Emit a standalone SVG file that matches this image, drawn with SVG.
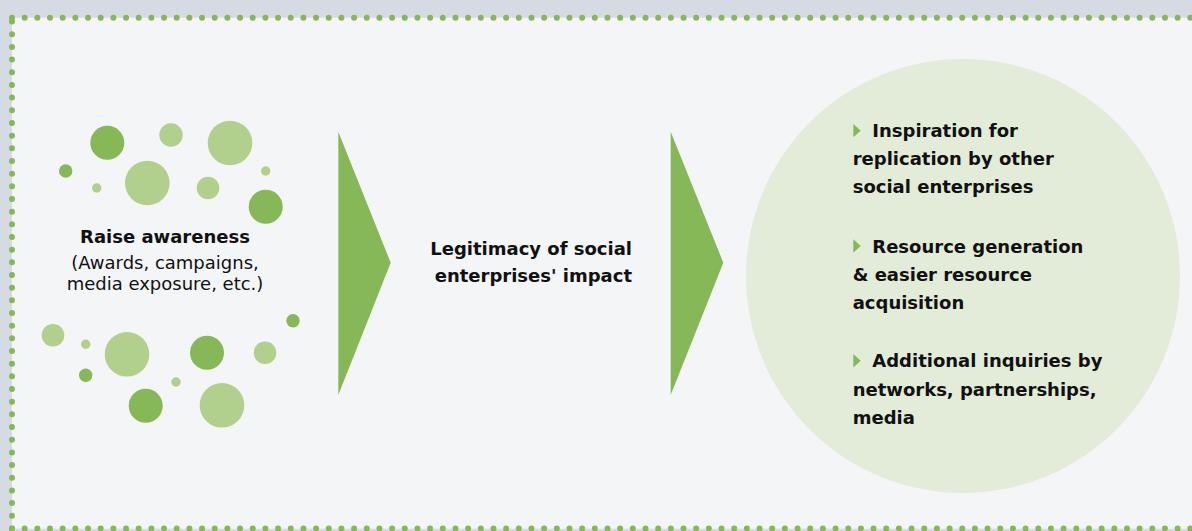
<svg xmlns="http://www.w3.org/2000/svg" width="1192" height="531" viewBox="0 0 1192 531">
<style>
.dots{fill:none;stroke:#86b858;stroke-width:6;stroke-linecap:round;stroke-dasharray:0 12.67}
.dk{fill:#86b858}
.lt{fill:#b1cf8d}
.chev{fill:#86b858}
.b{font-family:"DejaVu Sans",sans-serif;font-weight:bold;font-size:18px;fill:#111}
.r{font-family:"DejaVu Sans",sans-serif;font-size:18px;fill:#111}
.bul{fill:#86b858}
</style>
<rect x="0" y="0" width="1192" height="531" fill="#d5dae3"/>
<rect x="12" y="17.7" width="1180" height="511" fill="#f4f5f7"/>
<g id="border">
<path class="dots" d="M12 17.7 H1192"/>
<path class="dots" d="M12 528.4 H1192"/>
<path class="dots" d="M12 528.4 V17.7"/>
</g>
<g id="awareness">
<circle class="dk" cx="107.3" cy="142.7" r="17"/>
<circle class="lt" cx="171" cy="135" r="11.7"/>
<circle class="lt" cx="230" cy="143" r="22.3"/>
<circle class="dk" cx="65.7" cy="171" r="6.7"/>
<circle class="lt" cx="96.7" cy="188" r="4.7"/>
<circle class="lt" cx="147.3" cy="183" r="22.3"/>
<circle class="lt" cx="208" cy="188" r="11.3"/>
<circle class="lt" cx="265.7" cy="171" r="4.7"/>
<circle class="dk" cx="265.7" cy="206.7" r="17"/>
<circle class="lt" cx="53" cy="335.3" r="11.3"/>
<circle class="lt" cx="85.7" cy="344.3" r="4.7"/>
<circle class="lt" cx="127" cy="354.3" r="22.3"/>
<circle class="dk" cx="207" cy="352.7" r="17"/>
<circle class="lt" cx="265" cy="352.7" r="11.3"/>
<circle class="dk" cx="293" cy="320.7" r="6.7"/>
<circle class="dk" cx="85.7" cy="375.3" r="6.7"/>
<circle class="lt" cx="176" cy="382" r="4.7"/>
<circle class="dk" cx="145.7" cy="405.7" r="17"/>
<circle class="lt" cx="222" cy="405.3" r="22.3"/>
<text class="b" x="165" y="243" text-anchor="middle">Raise awareness</text>
<text class="r" x="165" y="269" text-anchor="middle">(Awards, campaigns,</text>
<text class="r" x="165" y="290" text-anchor="middle">media exposure, etc.)</text>
</g>
<g id="connectors">
<polygon class="chev" points="338.3,131.7 390.7,262.7 338.3,395"/>
<polygon class="chev" points="670.7,131.7 723.3,262.7 670.7,395"/>
</g>
<g id="legitimacy">
<text class="b" x="632" y="255" text-anchor="end">Legitimacy of social</text>
<text class="b" x="632" y="281.5" text-anchor="end">enterprises' impact</text>
</g>
<g id="outcomes">
<circle cx="963" cy="276" r="217" fill="#e3ecd8"/>
<polygon class="bul" points="853.3,124 860.7,130.7 853.3,137.3"/>
<text class="b" x="872.3" y="136.7">Inspiration for</text>
<text class="b" x="852.7" y="165">replication by other</text>
<text class="b" x="852.7" y="192.7">social enterprises</text>
<polygon class="bul" points="853.3,239.3 860.7,246 853.3,252.7"/>
<text class="b" x="872.3" y="252.7">Resource generation</text>
<text class="b" x="852.7" y="281">&amp; easier resource</text>
<text class="b" x="852.7" y="309">acquisition</text>
<polygon class="bul" points="853.3,354 860.7,360.7 853.3,367.4"/>
<text class="b" x="872.3" y="367.4">Additional inquiries by</text>
<text class="b" x="852.7" y="395.7">networks, partnerships,</text>
<text class="b" x="852.7" y="424">media</text>
</g>
</svg>
